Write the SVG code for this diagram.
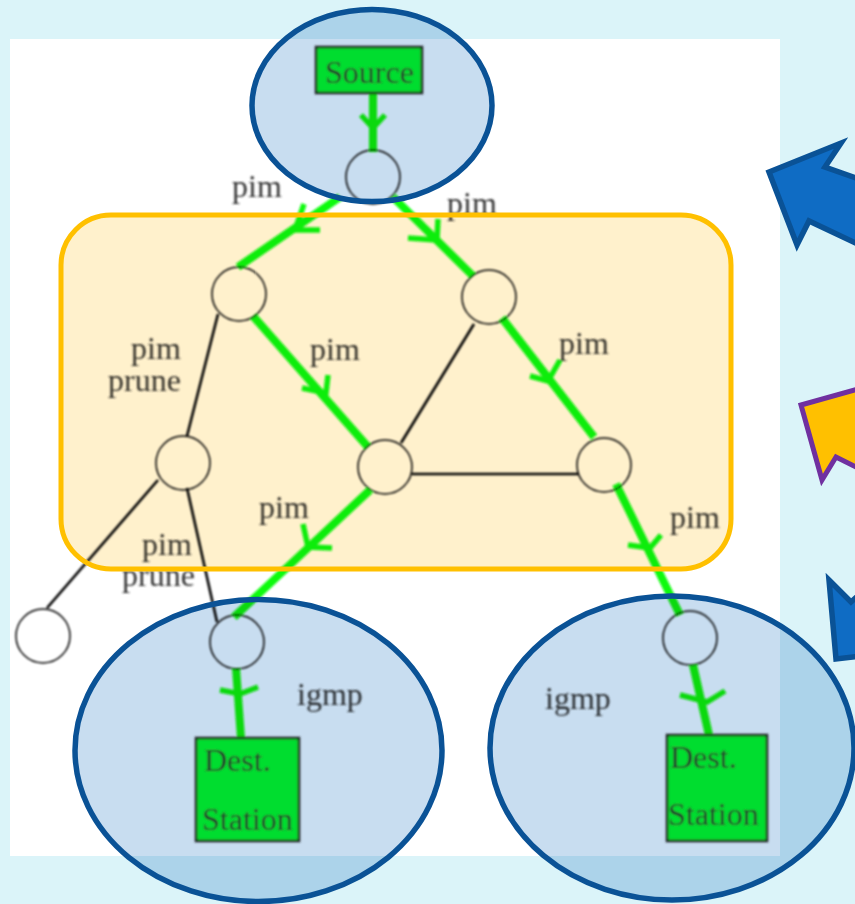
<svg xmlns="http://www.w3.org/2000/svg" width="855" height="904" viewBox="0 0 855 904">
<defs><filter id="soft" x="0" y="0" width="855" height="904" filterUnits="userSpaceOnUse"><feGaussianBlur stdDeviation="0.9"/></filter></defs>
<style>
.t{font-family:"Liberation Serif","Times New Roman",serif;font-size:32px;fill:#333}
.n{fill:none;stroke:#000;stroke-width:1.5}
.b{fill:#00ff32;stroke:#222;stroke-width:2.5}
.g{fill:none;stroke:#10fb10;stroke-width:8}
.h{fill:none;stroke:#10fb10;stroke-width:5.5}
.k{fill:none;stroke:#000;stroke-width:2.6}
.f{fill:#c8ddf0;mix-blend-mode:multiply}
.r{fill:none;stroke:#0a5296;stroke-width:5.5}
.a{fill:#0f6cc4;stroke:#0a5296;stroke-width:5.5;stroke-miterlimit:10}
</style>
<rect width="855" height="904" fill="#dbf4f9"/>
<rect x="10" y="39" width="770" height="817" fill="#fff"/>
<g filter="url(#soft)">
<g id="connectors">
<path class="k" d="M218 314L187 436M158 480L47 608M187 488L217 622M401 443L474 324M412 474H578"/>
<path class="g" d="M373 93V152M340 197L238 267M393 197L473 276M253 316L368 447M502 318L594 437M370 490L234 617M616 484L680 615M236 668L241 738M693 665L709 735"/>
<path class="h" d="M361 115L373 128L385 115M304 204L295 230L320 230M438 219L437 240L408 238M328 375L326 393L302 388M560 360L548 381L530 376M303 524L308 547L332 548M661 535L650 548L628 545M220 690L240 694L258 687M680 695L707 702L725 691"/>
</g>
<g id="labels">
<text class="t" x="232" y="197">pim</text>
<text class="t" x="447" y="214">pim</text>
<text class="t" x="131" y="359">pim</text>
<text class="t" x="108" y="391">prune</text>
<text class="t" x="310" y="360">pim</text>
<text class="t" x="559" y="354">pim</text>
<text class="t" x="259" y="518">pim</text>
<text class="t" x="670" y="528">pim</text>
<text class="t" x="142" y="555">pim</text>
<text class="t" x="122" y="586">prune</text>
<text class="t" x="297" y="705">igmp</text>
<text class="t" x="545" y="709">igmp</text>
</g>
<g id="source"><rect class="b" x="316" y="47" width="106" height="46"/><text class="t" x="325" y="83">Source</text></g>
<g id="dest1"><rect class="b" x="196" y="738" width="103" height="103"/><text class="t" x="204" y="771">Dest.</text><text class="t" x="202" y="830">Station</text></g>
<g id="dest2"><rect class="b" x="667" y="735" width="100" height="106"/><text class="t" x="670" y="768">Dest.</text><text class="t" x="668" y="825">Station</text></g>
<g id="router-root"><circle class="n" cx="373" cy="177" r="27"/></g>
<g id="router-a"><circle class="n" cx="239" cy="294" r="27"/></g>
<g id="router-b"><circle class="n" cx="489" cy="297" r="27"/></g>
<g id="router-c"><circle class="n" cx="183" cy="463" r="27"/></g>
<g id="router-d"><circle class="n" cx="385" cy="467" r="27"/></g>
<g id="router-e"><circle class="n" cx="604" cy="465" r="27"/></g>
<g id="router-f"><circle class="n" cx="43" cy="636" r="27"/></g>
<g id="router-g"><circle class="n" cx="237" cy="642" r="27"/></g>
<g id="router-h"><circle class="n" cx="690" cy="638" r="27"/></g>
</g>
<g id="region-core"><rect x="61" y="215" width="670" height="354" rx="50" fill="#fff1cc" style="mix-blend-mode:multiply"/><rect x="61" y="215" width="670" height="354" rx="50" fill="none" stroke="#ffc000" stroke-width="5"/></g>
<g id="region-source"><ellipse class="f" cx="372" cy="105.500" rx="120" ry="96"/><ellipse class="r" cx="372" cy="105.500" rx="120" ry="96"/></g>
<g id="region-dest1"><ellipse class="f" cx="258.500" cy="750.500" rx="183.500" ry="151"/><ellipse class="r" cx="258.500" cy="750.500" rx="183.500" ry="151"/></g>
<g id="region-dest2"><ellipse class="f" cx="672" cy="748" rx="182" ry="152"/><ellipse class="r" cx="672" cy="748" rx="182" ry="152"/></g>
<g id="arrow-top"><polygon class="a" points="769,172 841,143 825,167 862,180 862,246 809,221 797,245"/></g>
<g id="arrow-mid"><polygon fill="#ffc000" stroke="#7030a0" stroke-width="5" stroke-miterlimit="10" points="801,405 862,388 862,470 836,457 822,480"/></g>
<g id="arrow-low"><polygon class="a" points="829,580 851,602 862,592 862,656 836,659"/></g>
</svg>
